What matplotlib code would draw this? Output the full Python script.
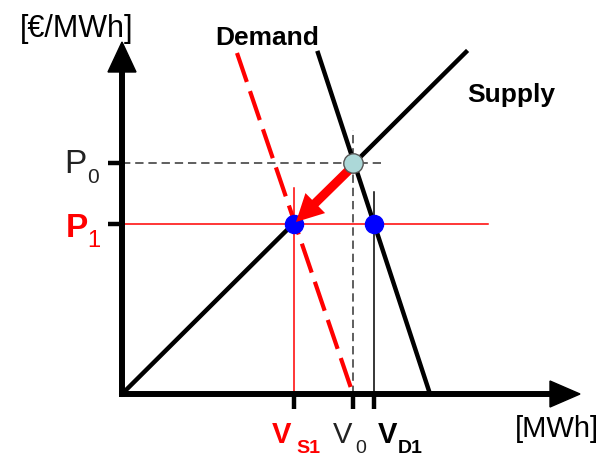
import matplotlib
matplotlib.use('Agg')
import matplotlib.pyplot as plt
from matplotlib.patches import Polygon

plt.rcParams['font.family'] = ['Liberation Sans', 'DejaVu Sans']
plt.rcParams['lines.scale_dashes'] = False

# ---- data (quantity, price in chart units) ----
supply_q = [0, 344]
supply_p = [0, 342]
demand_q = [196, 308]
demand_p = [341, 0]
demand_new_q = [115, 231]
demand_new_p = [341, 0]
P0, P1 = 231, 170
V0, VS1, VD1 = 231, 172, 252
x_axis_end, y_axis_end = 458, 352

RED = '#ff0000'
BLUE = '#0000ff'

fig = plt.figure(figsize=(6.08, 4.58), dpi=100)
ax = fig.add_axes([0, 0, 1, 1])
ax.set_xlim(-122, 486)
ax.set_ylim(-64, 394)
ax.axis('off')

# axes with arrow heads
ax.plot([0, 0], [-3, y_axis_end - 28], color='k', lw=4.3, solid_capstyle='butt', zorder=5)
ax.add_patch(Polygon([[0, y_axis_end], [-14, y_axis_end - 30], [14, y_axis_end - 30]],
                     closed=True, color='k', zorder=5))
ax.plot([-3, x_axis_end - 28], [0, 0], color='k', lw=4.3, solid_capstyle='butt', zorder=5)
ax.add_patch(Polygon([[x_axis_end, 0], [x_axis_end - 30, 13], [x_axis_end - 30, -13]],
                     closed=True, color='k', zorder=5))

# ticks
for p in (P0, P1):
    ax.plot([-14, 0], [p, p], color='k', lw=3.2, solid_capstyle='butt', zorder=5)
for v in (VS1, V0, VD1):
    ax.plot([v, v], [0, -15], color='k', lw=3.2, solid_capstyle='butt', zorder=5)

# guide lines
ax.plot([0, 259], [P0, P0], color='#333333', lw=1.1, dashes=(6, 3.5), zorder=2)
ax.plot([V0, V0], [0, 264], color='#333333', lw=1.1, dashes=(6, 3.5), zorder=2)
ax.plot([0, 366], [P1, P1], color=RED, lw=1.1, zorder=2)
ax.plot([VS1, VS1], [0, 206], color=RED, lw=1.1, zorder=2)
ax.plot([VD1, VD1], [0, 202], color='k', lw=1.1, zorder=2)

# curves
ax.plot(supply_q, supply_p, color='k', lw=3.2, zorder=3)
ax.plot(demand_q, demand_p, color='k', lw=3.2, zorder=3)
ax.plot(demand_new_q, demand_new_p, color=RED, lw=3.0, dashes=(22, 7), zorder=3)

# points
ax.plot([VS1, VD1], [P1, P1], 'o', color=BLUE, ms=13, zorder=6)
# shift arrow
ax.arrow(228, 225, (VS1 + 2) - 228, (P1 + 2) - 225, width=9, head_width=28,
         head_length=27, length_includes_head=True, color=RED, lw=0, zorder=7)
ax.plot([V0], [P0], 'o', color='#acd8d8', mec='#555555', mew=1.0, ms=14, zorder=8)

# texts
ax.text(-102, 357, '[€/MWh]', fontsize=22, ha='left', va='baseline')
ax.text(93, 349, 'Demand', fontsize=19, fontweight='bold', ha='left', va='baseline')
ax.text(345, 292, 'Supply', fontsize=19, fontweight='bold', ha='left', va='baseline')

ax.text(-58, 221, 'P', fontsize=24, ha='left', va='baseline', color='#222222')
ax.text(-35, 211, '0', fontsize=15, ha='left', va='baseline', color='#222222')
ax.text(-56, 157, 'P', fontsize=24, fontweight='bold', ha='left', va='baseline', color=RED)
ax.text(-35, 147, '1', fontsize=17, ha='left', va='baseline', color=RED)

ax.text(150, -49, 'V', fontsize=21, fontweight='bold', ha='left', va='baseline', color=RED)
ax.text(174, -63, 'S1', fontsize=14, fontweight='bold', ha='left', va='bottom', color=RED)
ax.text(211, -49, 'V', fontsize=21, ha='left', va='baseline', color='#222222')
ax.text(233, -63, '0', fontsize=14, ha='left', va='bottom', color='#222222')
ax.text(256, -49, 'V', fontsize=21, fontweight='bold', ha='left', va='baseline')
ax.text(276, -63, 'D1', fontsize=14, fontweight='bold', ha='left', va='bottom')
ax.text(393, -43, '[MWh]', fontsize=21, ha='left', va='baseline')

fig.savefig('out.png', dpi=100)
